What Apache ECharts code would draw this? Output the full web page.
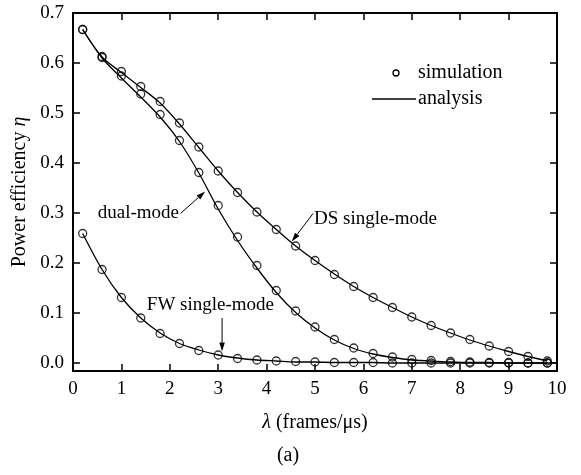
<!DOCTYPE html>
<html>
<head>
<meta charset="utf-8">
<script src="https://cdn.jsdelivr.net/npm/echarts@6/dist/echarts.min.js"></script>
<style>
  html, body { margin: 0; padding: 0; background: #fff; }
  #main { width: 581px; height: 475px; }
</style>
</head>
<body>
<div id="main"></div>
<script>
// arrival rate lambda (frames/us)
const lambdas = [0.2, 0.6, 1.0, 1.4, 1.8, 2.2, 2.6, 3.0, 3.4, 3.8, 4.2, 4.6, 5.0,
                 5.4, 5.8, 6.2, 6.6, 7.0, 7.4, 7.8, 8.2, 8.6, 9.0, 9.4, 9.8];
const lambdasFwLine = lambdas.concat([10.0]);

// simulation points
const dsSim   = [0.667, 0.613, 0.583, 0.553, 0.523, 0.480, 0.432, 0.384, 0.341, 0.302, 0.267, 0.234, 0.205,
                 0.177, 0.153, 0.131, 0.111, 0.092, 0.075, 0.060, 0.047, 0.034, 0.023, 0.013, 0.004];
const dualSim = [0.667, 0.611, 0.574, 0.538, 0.497, 0.445, 0.381, 0.315, 0.252, 0.195, 0.145, 0.104, 0.072,
                 0.047, 0.030, 0.019, 0.012, 0.007, 0.005, 0.003, 0.002, 0.001, 0.001, 0.000, 0.000];
const fwSim   = [0.259, 0.187, 0.131, 0.090, 0.059, 0.039, 0.025, 0.016, 0.009, 0.006, 0.004, 0.003, 0.002,
                 0.001, 0.001, 0.001, 0.000, 0.000, 0.000, 0.000, 0.000, 0.000, 0.000, 0.000, 0.000];

// analysis curves
const dsAna   = [0.667, 0.612, 0.581, 0.551, 0.520, 0.478, 0.431, 0.384, 0.341, 0.302, 0.267, 0.234, 0.205,
                 0.178, 0.153, 0.131, 0.111, 0.092, 0.075, 0.060, 0.046, 0.034, 0.023, 0.013, 0.004];
const dualAna = [0.667, 0.610, 0.570, 0.532, 0.492, 0.443, 0.380, 0.308, 0.245, 0.190, 0.141, 0.101, 0.070,
                 0.046, 0.029, 0.018, 0.011, 0.006, 0.004, 0.002, 0.001, 0.001, 0.000, 0.000, 0.000];
const fwAna   = [0.259, 0.187, 0.131, 0.090, 0.060, 0.039, 0.026, 0.016, 0.010, 0.006, 0.004, 0.002, 0.002,
                 0.001, 0.001, 0.001, 0.000, 0.000, 0.000, 0.000, 0.000, 0.000, 0.000, 0.000, 0.000, 0.000];

const yTicks = [0, 0.1, 0.2, 0.3, 0.4, 0.5, 0.6, 0.7];

// annotation labels with arrows, in data coordinates
const notes = [
  { text: 'dual-mode',      at: [1.35, 0.300], from: [2.22, 0.299], to: [2.73, 0.343] },
  { text: 'DS single-mode', at: [6.25, 0.287], from: [4.96, 0.299], to: [4.52, 0.243] },
  { text: 'FW single-mode', at: [2.84, 0.115], from: [3.08, 0.090], to: [3.08, 0.023] }
];

const FONT = '"Liberation Serif", "Times New Roman", serif';

const zip = (xs, ys) => ys.map((y, i) => [xs[i], y]);

const chart = echarts.init(document.getElementById('main'));

const axisLine = { show: true, onZero: false, lineStyle: { color: '#000', width: 2 } };
const tick = { show: true, inside: true, length: 7, lineStyle: { color: '#000', width: 1.5 } };

function lineSeries(xs, ys) {
  return {
    type: 'line', data: zip(xs, ys), smooth: 0.3,
    showSymbol: false, symbol: 'none', silent: true,
    lineStyle: { color: '#000', width: 1.3 }, z: 2
  };
}
function simSeries(ys) {
  return {
    type: 'scatter', data: zip(lambdas, ys), symbol: 'circle', symbolSize: 8,
    itemStyle: { color: 'rgba(0,0,0,0)', borderColor: '#000', borderWidth: 1.3 },
    silent: true, z: 3
  };
}

chart.setOption({
  animation: false,
  backgroundColor: '#fff',
  grid: { left: 73, right: 24, top: 13, bottom: 104 },
  xAxis: [{
    type: 'value', position: 'bottom', min: 0, max: 10, interval: 1,
    axisLine: axisLine, axisTick: tick, splitLine: { show: false },
    axisLabel: { color: '#000', fontFamily: FONT, fontSize: 19, margin: 9 },
    name: '{i|λ} (frames/μs)', nameLocation: 'middle', nameGap: 42,
    nameTextStyle: { color: '#000', fontFamily: FONT, fontSize: 20,
      rich: { i: { fontStyle: 'italic', fontFamily: FONT, fontSize: 20, color: '#000' } } }
  }, {
    type: 'value', position: 'top', min: 0, max: 10, interval: 1,
    axisLine: axisLine, axisTick: tick, axisLabel: { show: false }, splitLine: { show: false }
  }],
  yAxis: [{
    type: 'value', position: 'left', min: -0.016, max: 0.7,
    axisLine: axisLine,
    axisTick: Object.assign({}, tick, { customValues: yTicks }),
    axisLabel: { color: '#000', fontFamily: FONT, fontSize: 19, margin: 9,
      customValues: yTicks, formatter: v => v.toFixed(1) },
    splitLine: { show: false },
    name: 'Power efficiency {i|η}', nameLocation: 'middle', nameGap: 39,
    nameTextStyle: { color: '#000', fontFamily: FONT, fontSize: 20,
      rich: { i: { fontStyle: 'italic', fontFamily: FONT, fontSize: 20, color: '#000' } } }
  }, {
    type: 'value', position: 'right', min: -0.016, max: 0.7,
    axisLine: axisLine,
    axisTick: Object.assign({}, tick, { customValues: yTicks }),
    axisLabel: { show: false }, splitLine: { show: false }
  }],
  series: [
    lineSeries(lambdas, dsAna),
    lineSeries(lambdas, dualAna),
    lineSeries(lambdasFwLine, fwAna),
    simSeries(dsSim),
    simSeries(dualSim),
    simSeries(fwSim)
  ]
});

// annotations, legend and caption
const g = [];
notes.forEach(n => {
  const p = chart.convertToPixel({ gridIndex: 0 }, n.at);
  const a = chart.convertToPixel({ gridIndex: 0 }, n.from);
  const b = chart.convertToPixel({ gridIndex: 0 }, n.to);
  g.push({ type: 'text', x: p[0], y: p[1], silent: true,
    style: { text: n.text, font: '19px ' + FONT, fill: '#000', align: 'center', verticalAlign: 'middle' } });
  const dx = b[0] - a[0], dy = b[1] - a[1], len = Math.hypot(dx, dy);
  const ux = dx / len, uy = dy / len;
  const bx = b[0] - ux * 9, by = b[1] - uy * 9;
  g.push({ type: 'line', silent: true, shape: { x1: a[0], y1: a[1], x2: bx, y2: by },
    style: { stroke: '#000', lineWidth: 1 } });
  g.push({ type: 'polygon', silent: true,
    shape: { points: [[b[0], b[1]], [bx - uy * 2.8, by + ux * 2.8], [bx + uy * 2.8, by - ux * 2.8]] },
    style: { fill: '#000' } });
});

// legend box
g.push({ type: 'circle', silent: true, shape: { cx: 396, cy: 73, r: 3 },
  style: { fill: 'none', stroke: '#000', lineWidth: 1.3 } });
g.push({ type: 'text', x: 418, y: 73, silent: true,
  style: { text: 'simulation', font: '20px ' + FONT, fill: '#000', verticalAlign: 'middle' } });
g.push({ type: 'line', silent: true, shape: { x1: 372, y1: 99, x2: 416, y2: 99 },
  style: { stroke: '#000', lineWidth: 1.5 } });
g.push({ type: 'text', x: 418, y: 99, silent: true,
  style: { text: 'analysis', font: '20px ' + FONT, fill: '#000', verticalAlign: 'middle' } });

// caption
g.push({ type: 'text', x: 288, y: 456, silent: true,
  style: { text: '(a)', font: '20px ' + FONT, fill: '#000', align: 'center', verticalAlign: 'middle' } });

chart.setOption({ graphic: g });
</script>
</body>
</html>
